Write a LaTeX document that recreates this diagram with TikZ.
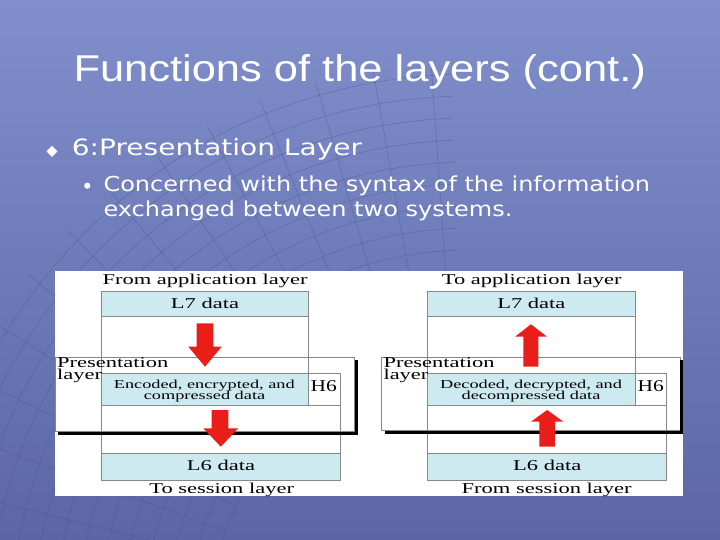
\documentclass[tikz,border=0pt]{standalone}
\usepackage{fontspec}
\usetikzlibrary{calc}
\newfontfamily\titlefont[FakeStretch=1.165]{Liberation Sans}
\newfontfamily\bodyfont[FakeStretch=1.165]{DejaVu Sans}
\newfontfamily\bodywide[FakeStretch=1.245]{DejaVu Sans}
\newfontfamily\diagfont[FakeStretch=1.5]{Liberation Serif}
\newfontfamily\hfont[FakeStretch=1.3]{Liberation Serif}
\definecolor{bgtop}{RGB}{128,143,203}
\definecolor{bgbot}{RGB}{92,102,166}
\definecolor{cellblue}{RGB}{206,234,241}
\definecolor{linegray}{RGB}{135,135,135}
\definecolor{arrowred}{RGB}{234,30,24}
\definecolor{gridcol}{RGB}{62,72,135}
\begin{document}
\begin{tikzpicture}[x=1pt,y=-1pt,
  lbl/.style={inner sep=0pt, anchor=base, font=\diagfont\fontsize{15}{15}\selectfont},
  preslbl/.style={inner sep=0pt, anchor=north west, align=left, font=\diagfont\fontsize{15}{11.7}\selectfont},
  smalltxt/.style={inner sep=0pt, anchor=base, font=\diagfont\fontsize{12.2}{12}\selectfont},
  hlbl/.style={inner sep=0pt, anchor=base, font=\hfont\fontsize{16.5}{16}\selectfont},
  cellbox/.style={draw=linegray, line width=0.6pt, fill=cellblue},
  whitecell/.style={draw=linegray, line width=0.6pt, fill=white},
  thin/.style={draw=linegray, line width=0.6pt},
  shadowline/.style={draw=black, line width=3.4pt, line cap=butt, line join=miter},
  redarrow/.style={fill=arrowred},
  gridline/.style={draw=gridcol, line width=0.6pt, opacity=0.35},
  slidetext/.style={inner sep=0pt, anchor=base west, text=white}
]
\useasboundingbox (0,0) rectangle (720,540);
% background
\shade[top color=bgtop, bottom color=bgbot] (0,0) rectangle (720,540);
% faint grid decoration
\begin{scope}
\clip (0,0) rectangle (720,540);
\foreach \r in {260,282,...,560} {
  \draw[gridline] ($(470,620)+(185:\r)$) arc[start angle=185, end angle=268, radius=\r];
}
\foreach \a in {188,194,...,266} {
  \draw[gridline] ($(470,620)+(\a:260)$) -- ($(470,620)+(\a:560)$);
}
\end{scope}

% slide texts
\node[slidetext, font=\titlefont\fontsize{37.3}{40}\selectfont] (title) at (73.3,81.7) {Functions of the layers (cont.)};
\fill[white] (52,146) -- (57.5,151.4) -- (52,156.8) -- (46.5,151.4) -- cycle;
\node[slidetext, font=\bodywide\fontsize{22.5}{26}\selectfont] (b1) at (71.7,156) {6:Presentation Layer};
\fill[white] (87.3,185.7) circle[radius=3.1];
\node[slidetext, font=\bodyfont\fontsize{20.6}{25}\selectfont] (b2a) at (103.3,191.7) {Concerned with the syntax of the information};
\node[slidetext, font=\bodyfont\fontsize{20.6}{25}\selectfont] (b2b) at (103.3,216.7) {exchanged between two systems.};

% white panel
\fill[white] (55,271) rectangle (683,496);

% ---------- left diagram ----------
\draw[thin] (101.7,316.7) -- (101.7,453.3);
\draw[thin] (308.3,316.7) -- (308.3,373.3);
\draw[thin] (340,405) -- (340,453.3);
\draw[thin] (101.7,405) -- (340,405);
\draw[cellbox] (101.7,291) rectangle (308.3,316.7);
\draw[thin] (55.7,357.3) rectangle (354.3,431);
\draw[cellbox] (101.7,373.3) rectangle (308.3,405);
\draw[whitecell] (308.3,373.3) rectangle (340,405);
\draw[cellbox] (101.7,453.3) rectangle (340,480);
\draw[shadowline] (58,433.3) -- (356.6,433.3) -- (356.6,360);
\fill[redarrow] (196.7,323.3) -- (213.3,323.3) -- (213.3,346.7) -- (221.7,346.7) -- (205,366.7) -- (188.3,346.7) -- (196.7,346.7) -- cycle;
\fill[redarrow] (211.7,410) -- (228.3,410) -- (228.3,428.3) -- (238.3,428.3) -- (220.8,446.7) -- (203.3,428.3) -- (211.7,428.3) -- cycle;
\node[lbl] (fromapp) at (205,284.3) {From application layer};
\node[lbl] (lseven) at (205,308.3) {L7 data};
\node[preslbl] (presA) at (57,357.2) {Presentation\\layer};
\node[smalltxt] (encA) at (204.3,388) {Encoded, encrypted, and};
\node[smalltxt] (encB) at (204.5,399.3) {compressed data};
\node[hlbl] (hsixA) at (323.8,391.7) {H6};
\node[lbl] (lsix) at (221,470) {L6 data};
\node[lbl] (toses) at (221.7,493) {To session layer};

% ---------- right diagram ----------
\draw[thin] (427.7,316.7) -- (427.7,453.3);
\draw[thin] (635,316.7) -- (635,373.3);
\draw[thin] (666.7,405) -- (666.7,453.3);
\draw[thin] (427.7,405) -- (666.7,405);
\draw[cellbox] (427.7,291) rectangle (635,316.7);
\draw[thin] (381.7,357.7) rectangle (680,430.7);
\draw[cellbox] (427.7,373.3) rectangle (635,405);
\draw[whitecell] (635,373.3) rectangle (666.7,405);
\draw[cellbox] (427.7,453.3) rectangle (666.7,480);
\draw[shadowline] (385,432.5) -- (681.6,432.5) -- (681.6,359.5);
\fill[redarrow] (531,324.3) -- (547,336.7) -- (538.3,336.7) -- (538.3,366.7) -- (523.3,366.7) -- (523.3,336.7) -- (515,336.7) -- cycle;
\fill[redarrow] (547.2,410) -- (563.3,421.7) -- (555,421.7) -- (555,446.7) -- (539.3,446.7) -- (539.3,421.7) -- (531,421.7) -- cycle;
\node[lbl] (toapp) at (531.7,284.3) {To application layer};
\node[lbl] (lsevenR) at (531.3,308.3) {L7 data};
\node[preslbl] (presB) at (383.3,357.2) {Presentation\\layer};
\node[smalltxt] (decA) at (531,388) {Decoded, decrypted, and};
\node[smalltxt] (decB) at (531,399.3) {decompressed data};
\node[hlbl] (hsixB) at (650.8,391.7) {H6};
\node[lbl] (lsixR) at (547.2,470) {L6 data};
\node[lbl] (fromses) at (546.7,493) {From session layer};
\end{tikzpicture}
\end{document}
